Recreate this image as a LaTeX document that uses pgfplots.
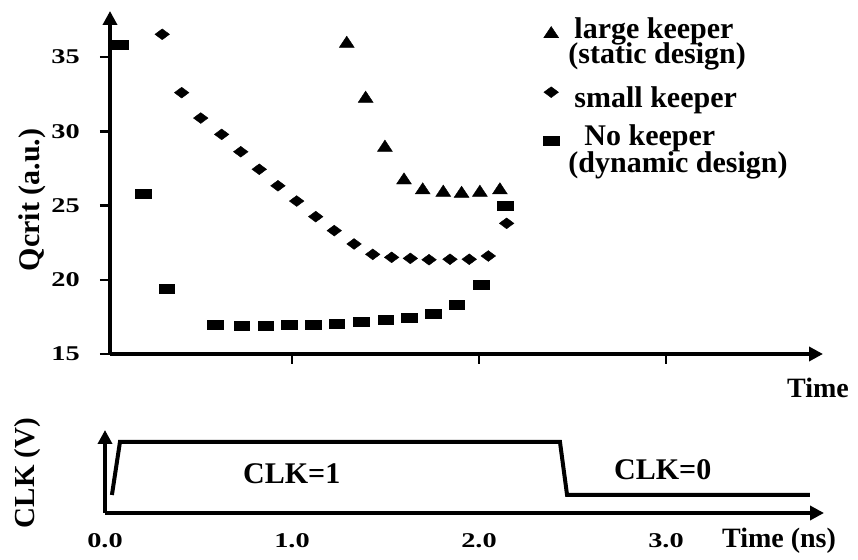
\documentclass[border=0pt]{standalone}
\usepackage{fontspec}
\setmainfont{Liberation Serif}
\newfontfamily\numfont{Liberation Serif}[UprightFont=* Bold, FakeStretch=1.35]
\usepackage{pgfplots}
\pgfplotsset{compat=1.18}
\usetikzlibrary{arrows.meta}

% bold text at a given size
\newcommand\lbl[1]{\fontsize{#1}{#1}\selectfont\bfseries}
% wide bold digits for the tick labels
\newcommand\numlbl[1]{\numfont\fontsize{#1}{#1}\selectfont}

\pgfplotsset{
  clkaxis/.style={
    scale only axis, clip=false,
    axis lines=left,
    axis line style={line width=3.5pt, -{Triangle[length=14pt,width=14pt]}},
    tick style={line width=2.5pt, black},
    tick align=outside,
    /pgf/number format/assume math mode=true,
  },
  % legend key: one mark raised by #1 above the text baseline
  legmark/.style={legend image code/.code={\path (-9pt,0pt) (9pt,0pt); \draw[##1] plot coordinates {(0pt,#1)};}},
}

\begin{document}
\begin{tikzpicture}
\useasboundingbox (0,0) rectangle (858pt,559pt);

% ---- upper panel: critical charge versus time ----
\begin{axis}[clkaxis,
  at={(110pt,205pt)}, anchor=south west,
  width=713pt, height=343pt,
  xmin=0.0267, xmax=3.84, ymin=15, ymax=38.1,
  xtick={1,2,3}, xticklabels={},
  ytick={15,20,25,30,35},
  major tick length=10pt,
  yticklabel style={font=\numlbl{21}, anchor=east, inner sep=0pt, xshift=-20pt},
  xlabel={Time},
  xlabel style={at={(axis description cs:0.9495,-0.1254)}, anchor=base west, inner sep=0pt, font=\lbl{28}},
  ylabel={Qcrit (a.u.)},
  ylabel style={at={(axis description cs:-0.0982,0.449)}, anchor=base, inner sep=0pt, font=\lbl{30}},
  legend style={at={(axis description cs:0.6059,0.9854)}, anchor=north west,
    draw=none, fill=none, inner sep=0pt, outer sep=0pt, row sep=0pt, column sep=8pt,
    font=\lbl{30}, cells={anchor=base west},
    nodes={inner sep=0pt, outer sep=0pt, text depth=0pt}},
]
\addplot[only marks, black, mark=triangle*, mark size=7.5pt,
  mark options={xscale=1.15, fill=black, draw=black}, legmark=4pt]
  coordinates {(1.293,35.90) (1.394,32.20) (1.497,28.90) (1.599,26.70) (1.699,26.03)
               (1.809,25.87) (1.907,25.80) (2.005,25.87) (2.112,26.03)};
\addlegendentry{\rule{0pt}{22pt}\hspace{6pt}large keeper}
\addlegendimage{empty legend}
\addlegendentry{\rule{0pt}{25pt}(static design)}

\addplot[only marks, black, mark=diamond*, mark size=5.4pt,
  mark options={xscale=1.8, fill=black, draw=black}, legmark=15pt]
  coordinates {(0.306,36.53) (0.410,32.60) (0.512,30.89) (0.624,29.79) (0.726,28.62)
               (0.825,27.44) (0.925,26.33) (1.025,25.30) (1.127,24.25) (1.226,23.31)
               (1.332,22.41) (1.432,21.71) (1.533,21.51) (1.633,21.44) (1.733,21.35)
               (1.845,21.38) (1.948,21.38) (2.050,21.60) (2.148,23.80)};
\addlegendentry{\rule{0pt}{44pt}\hspace{6pt}small keeper}

\addplot[only marks, black, mark=square*, mark size=4.5pt,
  mark options={xscale=1.75, fill=black, draw=black}, legmark=5pt]
  coordinates {(0.080,35.86) (0.205,25.77) (0.330,19.42) (0.588,16.95) (0.731,16.89)
               (0.859,16.89) (0.984,16.95) (1.114,16.95) (1.239,17.06) (1.369,17.15)
               (1.501,17.29) (1.627,17.44) (1.756,17.74) (1.881,18.30) (2.011,19.65)
               (2.139,24.99)};
\addlegendentry{\rule{0pt}{38pt}\hspace{16pt}No keeper}
\addlegendimage{empty legend}
\addlegendentry{\rule{0pt}{27pt}(dynamic design)}
\end{axis}

% ---- lower panel: clock waveform ----
\begin{axis}[clkaxis,
  at={(105pt,46pt)}, anchor=south west,
  width=719pt, height=83pt,
  xmin=0, xmax=3.845, ymin=-0.34, ymax=1.226,
  xtick={0,1,2,3}, xticklabels={0.0,1.0,2.0,3.0},
  ytick=\empty, major tick length=0pt,
  xticklabel style={font=\numlbl{21}, anchor=base, inner sep=0pt, yshift=-34pt},
  xlabel={Time (ns)},
  xlabel style={at={(axis description cs:0.858,-0.41)}, anchor=base west, inner sep=0pt, font=\lbl{28}},
  ylabel={CLK (V)},
  ylabel style={at={(axis description cs:-0.0974,0.482)}, anchor=base, inner sep=0pt, font=\lbl{29}},
]
\addplot[black, line width=4pt] coordinates {(0.037,0) (0.080,1) (2.433,1) (2.471,0) (3.770,0)};
\node[anchor=base west, inner sep=0pt, font=\lbl{30}] at (axis cs:0.738,0.226) {CLK=1};
\node[anchor=base west, inner sep=0pt, font=\lbl{30}] at (axis cs:2.722,0.283) {CLK=0};
\end{axis}
\end{tikzpicture}
\end{document}
